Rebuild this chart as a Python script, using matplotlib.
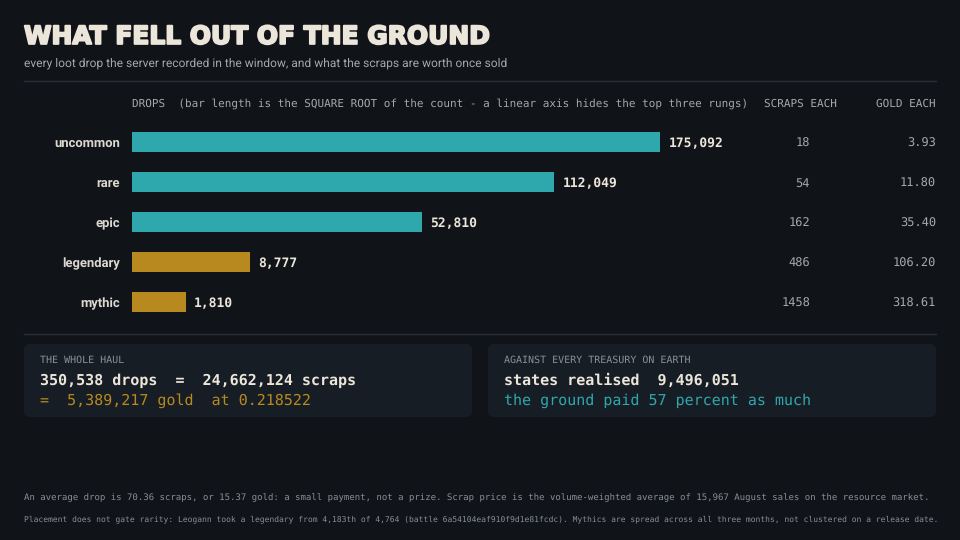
import matplotlib
matplotlib.use("Agg")
import matplotlib.pyplot as plt
import matplotlib.transforms as mtransforms
import matplotlib.patheffects as pe
from matplotlib.patches import FancyBboxPatch
import numpy as np

RARITIES = ["uncommon", "rare", "epic", "legendary", "mythic"]
DROPS = [175092, 112049, 52810, 8777, 1810]
SCRAPS_EACH = [18, 54, 162, 486, 1458]
GOLD_EACH = [3.93, 11.80, 35.40, 106.20, 318.61]

TOTAL_DROPS = 350538
TOTAL_SCRAPS = 24662124
TOTAL_GOLD = 5389217
SCRAP_PRICE = 0.218522
STATES_REALISED = 9496051
PERCENT_OF_STATES = 57

BG = "#101318"
PANEL = "#171d25"
RULE = "#2a2f37"
TEAL = "#2fa8ad"
GOLD = "#b8891f"
LIGHT = "#ece6da"
GREY = "#a3a8ad"
DIM = "#8a9098"
MONO = "DejaVu Sans Mono"

# linear text widths so the fitting below is predictable
plt.rcParams["text.hinting"] = "no_hinting"
plt.rcParams["text.hinting_factor"] = 1

fig = plt.figure(figsize=(9.6, 5.4), dpi=100, facecolor=BG)
bg = fig.add_axes([0, 0, 1, 1])
bg.set_xlim(0, 960)
bg.set_ylim(540, 0)
bg.axis("off")
bg.set_facecolor(BG)

renderer = fig.canvas.get_renderer()


def fit(t, width):
    # scale the font so the text spans the given pixel width
    for _ in range(4):
        w = t.get_window_extent(renderer=renderer).width
        t.set_fontsize(t.get_fontsize() * width / w)
    return t


# title block
title = bg.text(24, 37, "WHAT FELL OUT OF THE GROUND", color=LIGHT, fontsize=20,
                fontweight="bold", family="DejaVu Sans", va="center")
fit(title, 468)
title.set_path_effects([pe.withStroke(linewidth=1.4, foreground=LIGHT)])
fit(bg.text(24, 63, "every loot drop the server recorded in the window, and what the scraps are worth once sold",
            color=GREY, fontsize=10, family="Roboto", va="center"), 508)
bg.plot([24, 936], [80.5, 80.5], color=RULE, lw=1)
bg.plot([24, 936], [333.5, 333.5], color=RULE, lw=1)

# column headers
fit(bg.text(132, 104, "DROPS  (bar length is the SQUARE ROOT of the count - a linear axis hides the top three rungs)",
            color=GREY, fontsize=8, family=MONO, va="center"), 610)
fit(bg.text(837, 104, "SCRAPS EACH", color=GREY, fontsize=8, family=MONO, va="center", ha="right"), 73)
fit(bg.text(936, 104, "GOLD EACH", color=GREY, fontsize=8, family=MONO, va="center", ha="right"), 60)

# bars on a square-root scale
px_per_unit = 1.262
ax = fig.add_axes([132 / 960, 1 - 322 / 540, 628 / 960, 200 / 540])
ax.set_xlim(0, 628 / px_per_unit)
ax.set_ylim(len(RARITIES) - 0.5, -0.5)
ax.axis("off")
ax.patch.set_alpha(0)

rows = np.arange(len(RARITIES))
roots = np.sqrt(DROPS)
colors = [TEAL if i < 3 else GOLD for i in rows]
ax.barh(rows, roots, height=0.5, color=colors, edgecolor="none")

row_tf = mtransforms.blended_transform_factory(bg.transData, ax.transData)
nudge = mtransforms.ScaledTranslation(0, -1.5 / 100, fig.dpi_scale_trans)
for i, name in enumerate(RARITIES):
    ax.annotate(f"{DROPS[i]:,}", xy=(roots[i], i), xytext=(6, -1), textcoords="offset points",
                color=LIGHT, fontsize=9.3, fontweight="bold", family=MONO, va="center")
    bg.text(120, i, name, transform=row_tf + nudge, color="#dcd8d0", fontsize=9.6,
            fontweight="bold", family="Roboto", ha="right", va="center")
    bg.text(810, i, f"{SCRAPS_EACH[i]}", transform=row_tf + nudge, color=GREY, fontsize=8.5,
            family=MONO, ha="right", va="center")
    bg.text(936, i, f"{GOLD_EACH[i]:.2f}", transform=row_tf + nudge, color=GREY, fontsize=8.5,
            family=MONO, ha="right", va="center")

# summary panels
for x0 in (24, 488):
    bg.add_patch(FancyBboxPatch((x0 + 6, 350), 448 - 12, 73 - 12,
                                boxstyle="round,pad=6", facecolor=PANEL, edgecolor="none"))

fit(bg.text(40, 360, "THE WHOLE HAUL", color=DIM, fontsize=7.5, family=MONO, va="center"), 88)
fit(bg.text(40, 381, f"{TOTAL_DROPS:,} drops  =  {TOTAL_SCRAPS:,} scraps", color=LIGHT,
            fontsize=10.5, fontweight="bold", family=MONO, va="center"), 313)
fit(bg.text(40, 401, f"=  {TOTAL_GOLD:,} gold  at {SCRAP_PRICE}", color=GOLD,
            fontsize=10.5, family=MONO, va="center"), 268)

fit(bg.text(504, 360, "AGAINST EVERY TREASURY ON EARTH", color=DIM, fontsize=7.5, family=MONO, va="center"), 195)
fit(bg.text(504, 381, f"states realised  {STATES_REALISED:,}", color=LIGHT,
            fontsize=10.5, fontweight="bold", family=MONO, va="center"), 232)
fit(bg.text(504, 401, f"the ground paid {PERCENT_OF_STATES} percent as much", color=TEAL,
            fontsize=10.5, family=MONO, va="center"), 304)

# footnotes
avg_scraps = TOTAL_SCRAPS / TOTAL_DROPS
avg_gold = TOTAL_GOLD / TOTAL_DROPS
fit(bg.text(24, 498, f"An average drop is {avg_scraps:.2f} scraps, or {avg_gold:.2f} gold: a small payment, not a prize. "
            "Scrap price is the volume-weighted average of 15,967 August sales on the resource market.",
            color=DIM, fontsize=6.5, family=MONO, va="center"), 897)
fit(bg.text(24, 519, "Placement does not gate rarity: Leogann took a legendary from 4,183th of 4,764 "
            "(battle 6a54104eaf910f9d1e81fcdc). Mythics are spread across all three months, not clustered on a release date.",
            color=DIM, fontsize=6, family=MONO, va="center"), 909)

fig.savefig("out.png", dpi=100, facecolor=BG)
